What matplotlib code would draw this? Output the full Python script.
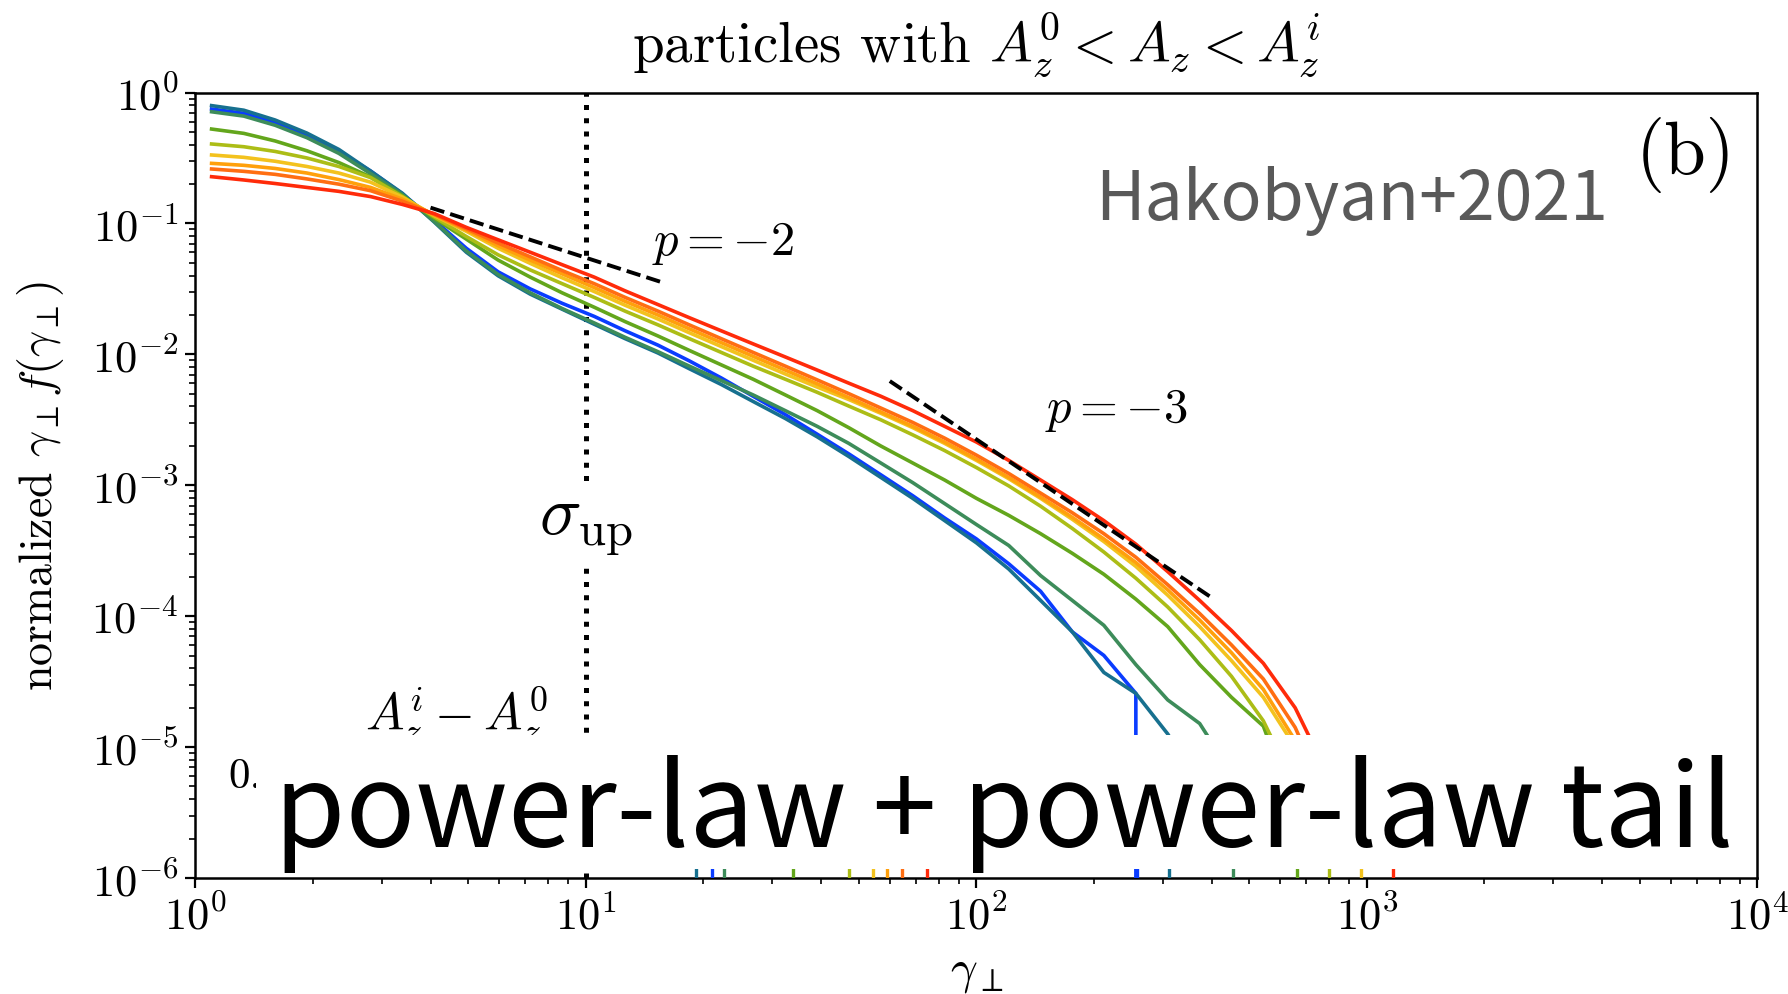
import numpy as np
import matplotlib
matplotlib.use("Agg")
import matplotlib.pyplot as plt
from matplotlib.patches import Rectangle
from matplotlib.ticker import LogLocator, NullFormatter

plt.rcParams["font.family"] = "serif"
plt.rcParams["font.serif"] = ["cmr10"]
plt.rcParams["mathtext.fontset"] = "cm"
plt.rcParams["axes.formatter.use_mathtext"] = True

# gamma_perp bin centres
gamma = [1.10, 1.33, 1.60, 1.93, 2.33, 2.81, 3.39, 4.09, 4.94, 5.96,
         7.20, 8.69, 10.5, 12.6, 15.3, 18.4, 22.2, 26.8, 32.4, 39.1,
         47.1, 56.9, 68.7, 82.9, 100, 121, 146, 176, 212, 256,
         309, 373, 450, 543, 655, 791]

# log10 of normalized gamma f(gamma), one list per A_z bin
logf_blue = [-0.126, -0.159, -0.23, -0.33, -0.45, -0.60, -0.775, -0.975, -1.19, -1.37,
             -1.50, -1.61, -1.71, -1.82, -1.93, -2.05, -2.18, -2.32, -2.46, -2.61,
             -2.76, -2.92, -3.08, -3.25, -3.41, -3.60, -3.81, -4.12, -4.30, -4.59, -np.inf]
logf_teal = [-0.10, -0.135, -0.21, -0.31, -0.435, -0.60, -0.77, -0.99, -1.22, -1.40,
             -1.54, -1.655, -1.77, -1.88, -1.99, -2.11, -2.23, -2.36, -2.49, -2.63,
             -2.78, -2.94, -3.10, -3.27, -3.44, -3.64, -3.88, -4.12, -4.43, -4.59, -4.90, -5.3]
logf_dgreen = [-0.147, -0.18, -0.25, -0.345, -0.465, -0.62, -0.78, -0.985, -1.21, -1.39,
               -1.53, -1.65, -1.76, -1.87, -1.98, -2.09, -2.20, -2.31, -2.43, -2.55,
               -2.68, -2.83, -2.98, -3.14, -3.30, -3.46, -3.69, -3.88, -4.07, -4.37,
               -4.64, -4.82, -5.2, -5.6]
logf_green = [-0.279, -0.312, -0.37, -0.445, -0.535, -0.645, -0.79, -0.96, -1.12, -1.28,
              -1.41, -1.53, -1.64, -1.75, -1.86, -1.97, -2.08, -2.19, -2.31, -2.43,
              -2.56, -2.70, -2.83, -2.96, -3.10, -3.23, -3.37, -3.52, -3.68, -3.87,
              -4.08, -4.37, -4.62, -4.84, -5.5]
logf_ygreen = [-0.393, -0.414, -0.45, -0.50, -0.565, -0.65, -0.795, -0.95, -1.10, -1.24,
               -1.355, -1.46, -1.565, -1.67, -1.775, -1.88, -1.985, -2.09, -2.19, -2.29,
               -2.395, -2.50, -2.615, -2.735, -2.865, -3.005, -3.16, -3.33, -3.51, -3.71,
               -3.93, -4.18, -4.46, -4.80, -5.3, -5.9]
logf_yellow = [-0.477, -0.495, -0.525, -0.565, -0.615, -0.685, -0.80, -0.94, -1.06, -1.19,
               -1.305, -1.415, -1.52, -1.625, -1.73, -1.835, -1.94, -2.045, -2.15, -2.25,
               -2.345, -2.45, -2.56, -2.68, -2.81, -2.95, -3.10, -3.26, -3.43, -3.62,
               -3.84, -4.08, -4.34, -4.62, -5.0, -5.6]
logf_lorange = [-0.541, -0.556, -0.58, -0.615, -0.665, -0.725, -0.815, -0.935, -1.05, -1.17,
                -1.28, -1.385, -1.49, -1.595, -1.70, -1.805, -1.91, -2.015, -2.12, -2.225,
                -2.33, -2.44, -2.55, -2.67, -2.80, -2.94, -3.09, -3.245, -3.41, -3.59,
                -3.80, -4.03, -4.28, -4.56, -4.95, -5.5]
logf_orange = [-0.584, -0.602, -0.625, -0.66, -0.70, -0.75, -0.83, -0.93, -1.04, -1.15,
               -1.255, -1.36, -1.46, -1.565, -1.67, -1.775, -1.88, -1.985, -2.09, -2.195,
               -2.30, -2.41, -2.52, -2.64, -2.77, -2.91, -3.06, -3.21, -3.37, -3.55,
               -3.76, -3.98, -4.22, -4.48, -4.85, -5.4]
logf_red = [-0.643, -0.668, -0.695, -0.725, -0.755, -0.795, -0.855, -0.925, -1.03, -1.125,
            -1.22, -1.315, -1.41, -1.515, -1.62, -1.72, -1.82, -1.92, -2.02, -2.12,
            -2.22, -2.32, -2.43, -2.55, -2.67, -2.81, -2.96, -3.11, -3.27, -3.45,
            -3.66, -3.88, -4.11, -4.36, -4.70, -5.2]

curves = [logf_blue, logf_teal, logf_dgreen, logf_green, logf_ygreen,
          logf_yellow, logf_lorange, logf_orange, logf_red]
colors = ["#0a3cff", "#17708f", "#3d8c5a", "#63a61c", "#acbd16",
          "#f3c21e", "#ffa00c", "#ff6e12", "#ff2b0a"]

# short colour marks along the bottom axis
rug1_x = [19.1, 21.0, 22.6, 33.9, 47.1, 54.3, 59.0, 64.5, 74.6]
rug1_c = [1, 0, 2, 3, 4, 5, 6, 7, 8]
rug2_x = [258, 311, 454, 662, 800, 966, 1167]
rug2_c = [0, 1, 2, 3, 4, 5, 8]

# reference power laws
p2_x = [4.0, 15.9]
p2_y = [0.132, 0.035]
p3_x = [60.0, 401.0]
p3_y = [6.25e-3, 1.38e-4]

sigma_up = 10.0

fig = plt.figure(figsize=(17.88, 9.95), dpi=100)
ax = fig.add_axes([0.1093, 0.1166, 0.8736, 0.7894])

for logs, c in zip(curves, colors):
    ax.plot(gamma[:len(logs)], 10.0 ** np.array(logs), color=c, lw=2.6, zorder=3)

for xs, cs in [(rug1_x, rug1_c), (rug2_x, rug2_c)]:
    ax.vlines(xs, 1e-6, 1e-5, colors=[colors[i] for i in cs], lw=2.4, zorder=4)

ax.plot(p2_x, p2_y, "k--", lw=2.8, zorder=5)
ax.plot(p3_x, p3_y, "k--", lw=2.8, zorder=5)
ax.axvline(sigma_up, color="k", ls=":", lw=3.6, zorder=2)

ax.set_xscale("log")
ax.set_yscale("log")
ax.set_xlim(1, 1e4)
ax.set_ylim(1e-6, 1)
for axis in (ax.xaxis, ax.yaxis):
    axis.set_major_locator(LogLocator(base=10, numticks=20))
    axis.set_minor_locator(LogLocator(base=10, subs=np.arange(2, 10), numticks=100))
    axis.set_minor_formatter(NullFormatter())
ax.tick_params(which="major", length=7, width=1.6, labelsize=32, pad=5)
ax.tick_params(which="minor", length=4, width=1.2)
for s in ax.spines.values():
    s.set_linewidth(1.8)

ax.set_xlabel(r"$\gamma_\perp$", fontsize=34)
ax.xaxis.set_label_coords(0.5, -0.095)
ax.set_ylabel(r"normalized $\gamma_\perp f(\gamma_\perp)$", fontsize=33)
ax.yaxis.set_label_coords(-0.083, 0.5)

ax.text(0.5, 1.039, r"particles with $A_z^0 < A_z < A_z^i$", transform=ax.transAxes,
        ha="center", va="baseline", fontsize=41)

ax.text(14.8, 0.0584, r"$p=-2$", fontsize=35, va="baseline", zorder=6)
ax.text(150, 3.1e-3, r"$p=-3$", fontsize=35, va="baseline", zorder=6)
ax.text(sigma_up, 4.24e-4, r"$\sigma_{\rm up}$", fontsize=50, ha="center", va="baseline",
        zorder=6, bbox=dict(fc="white", ec="none", pad=6))

ax.text(0.576, 0.839, "Hakobyan+2021", transform=ax.transAxes, fontsize=49,
        color="#595959", family=["Noto Sans CJK JP", "DejaVu Sans"], va="baseline")
ax.text(0.9862, 0.8975, "(b)", transform=ax.transAxes, fontsize=54, ha="right", va="baseline")

# colour-bar label partly hidden behind the white panel
ax.text(0.1668, 0.1897, r"$A_z^i - A_z^0$", transform=ax.transAxes, fontsize=37,
        ha="center", va="baseline", zorder=6)
ax.text(0.0208, 0.1158, "0.5", transform=ax.transAxes, fontsize=31, va="baseline", zorder=6)

ax.add_patch(Rectangle((0.0388, 0.0115), 0.9542, 0.1705, transform=ax.transAxes,
                       fc="white", ec="none", zorder=10))
ax.text(0.0503, 0.0407, "power-law + power-law tail", transform=ax.transAxes,
        fontsize=83, family=["Noto Sans CJK JP", "DejaVu Sans"], va="baseline", zorder=11)

fig.savefig("out.png", dpi=100)
